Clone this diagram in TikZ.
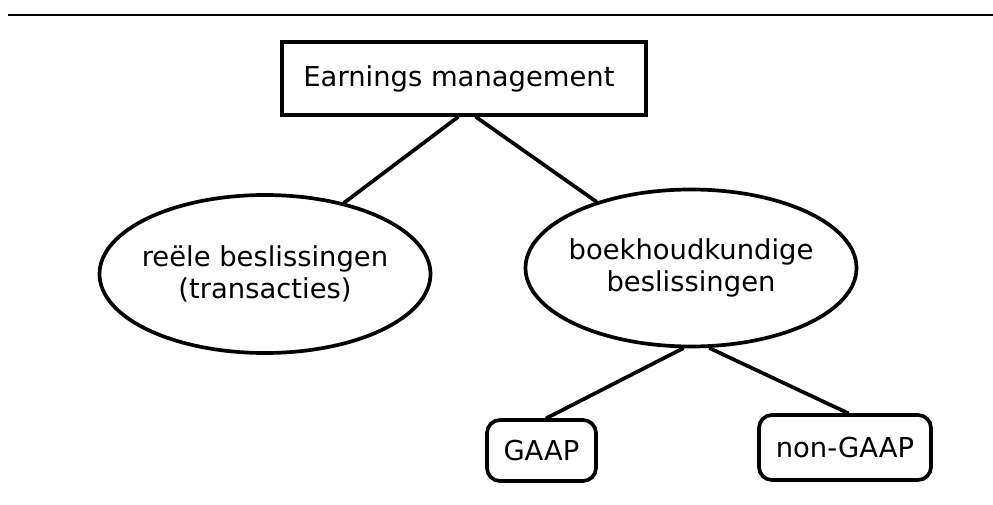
\documentclass[tikz,border=0pt]{standalone}
\usepackage{fontspec}
\setmainfont{DejaVu Sans}
\usetikzlibrary{shapes.geometric}
\tikzset{
  lbl/.style={font=\fontsize{27.4}{32.5}\selectfont, align=center, text=black},
  topbox/.style={lbl, draw, line width=4pt, rectangle, inner sep=0pt,
                 minimum width=364pt, minimum height=73pt},
  ovalbox/.style={lbl, draw, line width=3.7pt, ellipse, inner xsep=-16pt, inner ysep=0pt,
                  minimum width=331pt, minimum height=158pt},
  roundbox/.style={lbl, draw, line width=3.7pt, rectangle, rounded corners=13pt, inner sep=0pt},
  conn/.style={line width=3.7pt, line cap=round}
}
\begin{document}
\begin{tikzpicture}[x=1pt,y=-1pt]
\useasboundingbox (0,0) rectangle (993,505);
\coordinate (ruleL) at (8,15);
\coordinate (ruleR) at (993,15);
\draw[line width=2.2pt] (ruleL) -- (ruleR);

\node[topbox] (em) at (464,78.5) {Earnings management\hspace*{10pt}};
\node[ovalbox] (lb) at (265,274) {re\"ele beslissingen\\(transacties)};
\node[ovalbox, minimum width=331pt, minimum height=157pt] (rbx) at (691,268) {boekhoudkundige\\beslissingen};
\node[roundbox, minimum width=109pt, minimum height=61pt] (gaap) at (541.5,450.5) {GAAP};
\node[roundbox, minimum width=172pt, minimum height=65pt] (ng) at (845,447.5) {non-GAAP};

\draw[conn] ([xshift=-6pt]em.south) -- (lb.42);
\draw[conn] ([xshift=12pt]em.south) -- (rbx.145);
\draw[conn] ([xshift=-8pt]rbx.south) -- ([xshift=5pt]gaap.north);
\draw[conn] ([xshift=19pt]rbx.south) -- ([xshift=3pt]ng.north);
\end{tikzpicture}
\end{document}
